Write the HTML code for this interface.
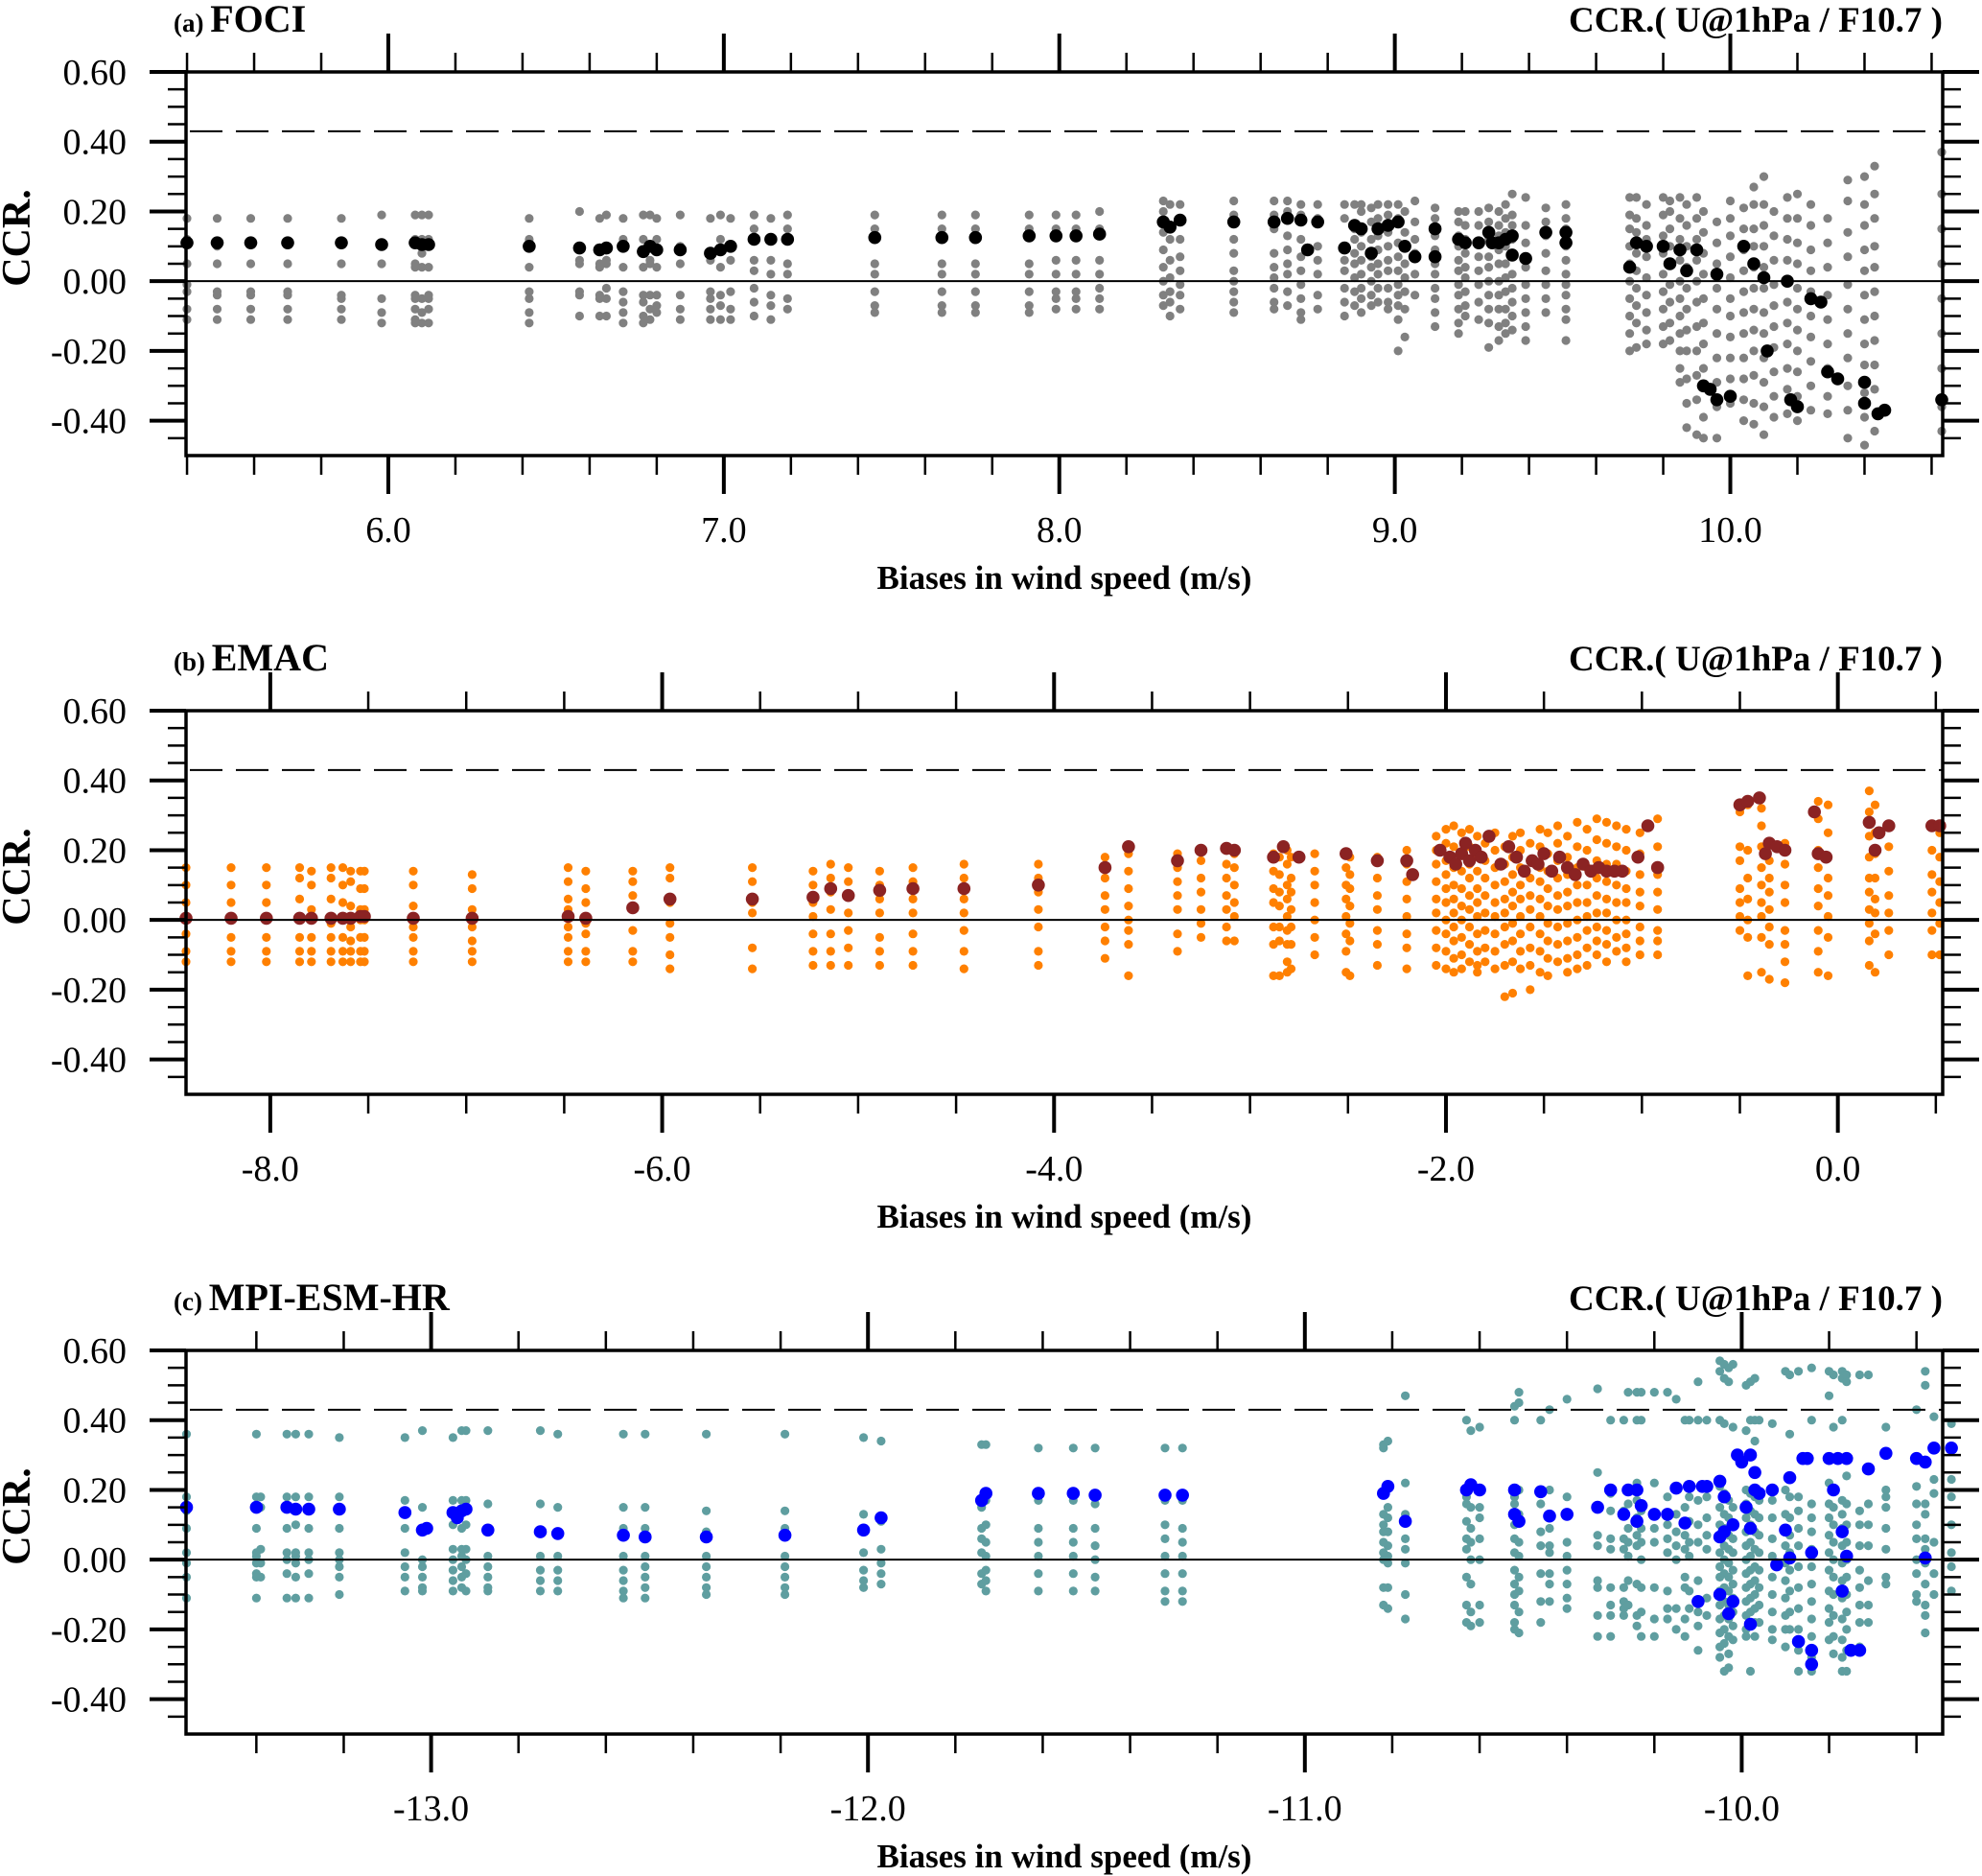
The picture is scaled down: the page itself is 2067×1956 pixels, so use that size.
<!DOCTYPE html>
<html><head><meta charset="utf-8"><style>
html,body{margin:0;padding:0;background:#fff;}
svg{display:block;font-family:"Liberation Serif",serif;}
</style></head><body>
<svg id="fig" width="2067" height="1956" viewBox="0 0 2067 1956" xmlns="http://www.w3.org/2000/svg"></svg>
<script>
// ---------- Panel (a) FOCI ----------
const aGrayX = [5.40,5.49,5.59,5.70,5.86,5.98,6.08,6.10,6.12,6.42,6.57,6.63,6.65,6.70,6.76,6.78,6.80,6.87,6.96,6.99,7.02,7.09,7.14,7.19,7.45,7.65,7.75,7.91,7.99,8.05,8.12,8.31,8.33,8.36,8.52,8.64,8.68,8.72,8.77,8.85,8.88,8.90,8.93,8.95,8.98,9.01,9.03,9.06,9.12,9.19,9.21,9.25,9.28,9.31,9.33,9.35,9.39,9.45,9.51,9.70,9.72,9.75,9.80,9.82,9.85,9.87,9.90,9.92,9.96,10.00,10.04,10.07,10.10,10.13,10.17,10.20,10.24,10.29,10.35,10.40,10.43,10.63];
const aGrayY = [
[0.18,0.12,0.05,-0.01,-0.03,-0.08,-0.11],[0.18,0.10,0.05,-0.03,-0.04,-0.08,-0.11],[0.18,0.05,-0.03,-0.04,-0.08,-0.11],[0.18,0.05,-0.03,-0.04,-0.08,-0.11],
[0.18,0.05,-0.04,-0.05,-0.08,-0.11],[0.19,0.05,-0.05,-0.09,-0.12],[0.19,0.12,0.05,0.04,-0.04,-0.05,-0.08,-0.11,-0.12],[0.19,0.12,0.08,0.04,-0.05,-0.09,-0.12],
[0.19,0.12,0.04,-0.04,-0.05,-0.08,-0.12],[0.18,0.12,0.04,-0.03,-0.05,-0.09,-0.12],[0.20,0.06,0.05,-0.03,-0.04,-0.10],[0.18,0.05,0.04,-0.04,-0.05,-0.10],
[0.19,0.06,0.05,-0.02,-0.05,-0.10],[0.18,0.12,0.04,-0.03,-0.06,-0.09,-0.12],[0.19,0.12,0.04,-0.04,-0.06,-0.10,-0.12],[0.19,0.06,0.05,-0.04,-0.08,-0.11],
[0.18,0.12,0.04,-0.04,-0.07,-0.09],[0.19,0.10,0.05,-0.04,-0.08,-0.11],[0.18,0.06,-0.03,-0.05,-0.08,-0.11],[0.19,0.12,0.04,-0.04,-0.07,-0.11],
[0.18,0.06,-0.03,-0.08,-0.11],[0.19,0.15,0.06,0.03,-0.02,-0.06,-0.10],[0.18,0.06,0.02,-0.04,-0.07,-0.11],[0.19,0.15,0.05,0.02,-0.05,-0.08],
[0.19,0.15,0.05,0.02,-0.03,-0.07,-0.09],[0.19,0.15,0.05,0.02,-0.03,-0.07,-0.09],[0.19,0.15,0.05,0.02,-0.03,-0.07,-0.09],[0.19,0.15,0.05,0.02,-0.03,-0.07,-0.09],
[0.19,0.15,0.06,0.02,-0.03,-0.05,-0.08],[0.19,0.15,0.06,0.02,-0.03,-0.05,-0.08],[0.20,0.15,0.06,0.02,-0.02,-0.05,-0.08],
[0.23,0.20,0.14,0.09,0.04,0.00,-0.04,-0.07],[0.22,0.12,0.06,0.01,-0.03,-0.06,-0.10],[0.22,0.18,0.12,0.07,0.03,-0.01,-0.04,-0.08],
[0.23,0.19,0.12,0.08,0.03,0.00,-0.03,-0.06,-0.09],[0.23,0.19,0.15,0.08,0.04,0.01,-0.02,-0.06,-0.08],[0.23,0.20,0.13,0.09,0.05,0.02,-0.03,-0.07],
[0.22,0.19,0.12,0.07,0.03,-0.01,-0.05,-0.09,-0.11],[0.22,0.18,0.10,0.06,0.02,-0.04,-0.08],[0.22,0.18,0.10,0.06,0.03,-0.02,-0.06,-0.10],
[0.22,0.15,0.12,0.08,0.05,0.01,-0.03,-0.07],[0.22,0.20,0.14,0.10,0.06,0.02,-0.02,-0.05,-0.09],[0.21,0.17,0.12,0.07,0.04,0.00,-0.04,-0.07],
[0.22,0.18,0.13,0.09,0.05,0.02,-0.02,-0.06],[0.22,0.19,0.14,0.10,0.06,0.03,-0.02,-0.06,-0.08],[0.22,0.18,0.11,0.07,0.03,-0.01,-0.04,-0.07,-0.11,-0.20],
[0.20,0.14,0.10,0.05,0.01,-0.03,-0.08,-0.16],[0.23,0.17,0.12,0.08,0.02,-0.04],[0.21,0.18,0.13,0.09,0.05,0.02,-0.02,-0.05,-0.09,-0.13],
[0.20,0.17,0.13,0.10,0.06,0.03,-0.01,-0.04,-0.08,-0.12,-0.15],[0.20,0.16,0.12,0.08,0.04,0.01,-0.03,-0.07,-0.10],[0.20,0.16,0.11,0.07,0.03,-0.01,-0.06,-0.11],
[0.21,0.17,0.12,0.07,0.04,0.00,-0.04,-0.08,-0.12,-0.19],[0.20,0.16,0.13,0.09,0.05,0.00,-0.04,-0.08,-0.13,-0.17],[0.22,0.18,0.14,0.10,0.05,0.01,-0.03,-0.08,-0.12,-0.15],
[0.25,0.19,0.16,0.12,0.08,0.02,-0.02,-0.06,-0.10,-0.14],[0.24,0.16,0.11,0.04,-0.01,-0.05,-0.09,-0.13,-0.17],[0.21,0.17,0.13,0.08,0.03,-0.01,-0.05,-0.09],
[0.22,0.18,0.15,0.10,0.06,0.02,-0.01,-0.04,-0.08,-0.11,-0.17],[0.24,0.19,0.15,0.10,0.05,0.00,-0.05,-0.10,-0.15,-0.20],[0.24,0.18,0.14,0.08,0.03,-0.02,-0.07,-0.12,-0.19],
[0.22,0.16,0.12,0.07,0.01,-0.04,-0.09,-0.14,-0.18],[0.24,0.19,0.13,0.08,0.02,-0.03,-0.08,-0.13,-0.18],[0.23,0.20,0.15,0.10,0.05,-0.01,-0.06,-0.12,-0.17],
[0.24,0.18,0.12,0.06,0.00,-0.05,-0.10,-0.15,-0.20,-0.25,-0.29],[0.22,0.16,0.10,0.04,-0.02,-0.08,-0.14,-0.20,-0.28,-0.35,-0.42],[0.24,0.18,0.12,0.06,0.00,-0.06,-0.13,-0.20,-0.27,-0.34,-0.44],
[0.20,0.14,0.08,0.02,-0.05,-0.12,-0.18,-0.25,-0.39,-0.45],[0.17,0.11,0.05,-0.02,-0.08,-0.15,-0.22,-0.29,-0.36,-0.45],[0.23,0.18,0.13,0.07,0.01,-0.05,-0.10,-0.16,-0.22,-0.28,-0.35],
[0.21,0.15,0.09,0.03,-0.03,-0.09,-0.15,-0.22,-0.28,-0.34,-0.40],[0.27,0.22,0.15,0.10,0.04,-0.02,-0.08,-0.14,-0.20,-0.27,-0.35,-0.41],[0.30,0.22,0.16,0.10,0.04,-0.02,-0.09,-0.15,-0.22,-0.29,-0.36,-0.44],
[0.20,0.13,0.06,-0.01,-0.07,-0.13,-0.19,-0.26,-0.33,-0.39],[0.24,0.18,0.12,0.06,0.00,-0.06,-0.12,-0.18,-0.25,-0.31,-0.38],[0.25,0.18,0.11,0.05,-0.02,-0.08,-0.14,-0.20,-0.26,-0.33,-0.40],
[0.22,0.16,0.09,0.03,-0.03,-0.10,-0.16,-0.23,-0.30,-0.37],[0.18,0.11,0.04,-0.04,-0.11,-0.18,-0.25,-0.33,-0.38],[0.29,0.23,0.14,0.07,-0.01,-0.08,-0.15,-0.22,-0.30,-0.37,-0.45],
[0.30,0.22,0.16,0.09,0.03,-0.04,-0.11,-0.18,-0.24,-0.32,-0.39,-0.47],[0.33,0.25,0.18,0.10,0.04,-0.03,-0.10,-0.17,-0.24,-0.31,-0.43],[0.37,0.25,0.15,0.05,-0.05,-0.15,-0.25,-0.36,-0.43]];
const aHiX = [5.40,5.49,5.59,5.70,5.86,5.98,6.08,6.10,6.12,6.42,6.57,6.63,6.65,6.70,6.76,6.78,6.80,6.87,6.96,6.99,7.02,7.09,7.14,7.19,7.45,7.65,7.75,7.91,7.99,8.05,8.12,8.31,8.33,8.36,8.52,8.64,8.68,8.72,8.74,8.77,8.85,8.88,8.90,8.93,8.95,8.98,9.01,9.03,9.06,9.12,9.12,9.19,9.21,9.25,9.28,9.29,9.31,9.33,9.35,9.35,9.39,9.45,9.51,9.51,9.70,9.72,9.75,9.80,9.82,9.85,9.87,9.90,9.92,9.94,9.96,9.96,10.00,10.04,10.07,10.10,10.11,10.17,10.18,10.20,10.24,10.27,10.29,10.32,10.40,10.40,10.44,10.46,10.63];
const aHiY = [0.11,0.11,0.11,0.11,0.11,0.105,0.11,0.105,0.105,0.10,0.095,0.09,0.095,0.10,0.085,0.10,0.09,0.09,0.08,0.09,0.10,0.12,0.12,0.12,0.125,0.125,0.125,0.13,0.13,0.13,0.135,0.17,0.155,0.175,0.17,0.17,0.18,0.175,0.09,0.17,0.095,0.16,0.15,0.08,0.15,0.16,0.17,0.10,0.07,0.15,0.07,0.12,0.11,0.11,0.14,0.11,0.11,0.12,0.13,0.075,0.065,0.14,0.14,0.11,0.04,0.11,0.10,0.10,0.05,0.09,0.03,0.09,-0.30,-0.31,0.02,-0.34,-0.33,0.10,0.05,0.01,-0.20,0.00,-0.34,-0.36,-0.05,-0.06,-0.26,-0.28,-0.29,-0.35,-0.38,-0.37,-0.34];
const aXTicks = [6.0,7.0,8.0,9.0,10.0];
const aXLabels = ["6.0","7.0","8.0","9.0","10.0"];

// ---------- Panel (b) EMAC ----------
const bGrayX = [-8.43,-8.20,-8.02,-7.85,-7.79,-7.69,-7.63,-7.59,-7.54,-7.52,-7.27,-6.97,-6.48,-6.39,-6.15,-5.96,-5.54,-5.23,-5.14,-5.05,-4.89,-4.72,-4.46,-4.08,-3.74,-3.62,-3.37,-3.25,-3.12,-3.08,-2.88,-2.85,-2.81,-2.79,-2.67,-2.51,-2.49,-2.35,-2.20,-2.05,-2.00,-1.96,-1.92,-1.88,-1.84,-1.80,-1.75,-1.70,-1.66,-1.62,-1.57,-1.52,-1.48,-1.43,-1.38,-1.33,-1.28,-1.23,-1.18,-1.13,-1.08,-1.01,-0.92,-0.50,-0.46,-0.39,-0.35,-0.27,-0.10,-0.05,0.16,0.19,0.26,0.48,0.52];
const bGrayY = [
[0.15,0.10,0.05,0.00,-0.04,-0.09,-0.12],[0.15,0.10,0.05,0.00,-0.05,-0.09,-0.12],[0.15,0.10,0.05,0.00,-0.05,-0.09,-0.12],[0.15,0.12,0.06,0.01,-0.05,-0.09,-0.12],
[0.14,0.10,0.03,-0.05,-0.09,-0.12],[0.15,0.12,0.06,-0.01,-0.05,-0.09,-0.12],[0.15,0.10,0.05,0.00,-0.05,-0.09,-0.12],[0.14,0.11,0.04,-0.02,-0.06,-0.09,-0.12],
[0.14,0.09,0.03,0.00,-0.05,-0.09,-0.12],[0.14,0.09,0.03,0.00,-0.05,-0.09,-0.12],[0.14,0.10,0.04,-0.02,-0.05,-0.09,-0.12],[0.13,0.09,0.03,-0.02,-0.06,-0.09,-0.12],
[0.15,0.11,0.06,0.03,-0.02,-0.05,-0.09,-0.12],[0.14,0.09,0.05,-0.01,-0.04,-0.09,-0.12],[0.14,0.11,0.07,-0.03,-0.09,-0.12],[0.15,0.12,0.05,-0.01,-0.05,-0.10,-0.14],
[0.15,0.11,0.05,0.02,-0.08,-0.14],[0.14,0.10,0.05,0.01,-0.04,-0.09,-0.13],[0.16,0.12,0.08,0.03,-0.04,-0.09,-0.13],[0.15,0.11,0.07,0.02,-0.03,-0.08,-0.13],
[0.14,0.10,0.06,0.02,-0.05,-0.09,-0.13],[0.15,0.11,0.06,0.02,-0.04,-0.09,-0.13],[0.16,0.12,0.06,0.02,-0.03,-0.09,-0.14],[0.16,0.12,0.08,0.03,-0.02,-0.09,-0.13],
[0.18,0.12,0.07,0.03,-0.02,-0.06,-0.11],[0.19,0.14,0.09,0.04,0.00,-0.03,-0.07,-0.16],[0.19,0.15,0.11,0.07,0.03,-0.04,-0.09],[0.20,0.17,0.12,0.08,0.03,-0.01,-0.05],
[0.20,0.16,0.12,0.07,0.03,-0.02,-0.06],[0.19,0.15,0.10,0.05,0.01,-0.06],[0.19,0.14,0.09,0.05,-0.02,-0.07,-0.16],[0.18,0.13,0.08,0.04,-0.02,-0.06,-0.16],
[0.20,0.16,0.10,0.06,0.01,-0.03,-0.07,-0.12,-0.15],[0.18,0.12,0.08,0.03,-0.02,-0.07,-0.14],[0.19,0.14,0.10,0.05,0.00,-0.05,-0.10],[0.19,0.15,0.10,0.06,0.01,-0.04,-0.09,-0.15],
[0.18,0.13,0.09,0.04,-0.01,-0.06,-0.16],[0.18,0.12,0.07,0.03,-0.03,-0.07,-0.13],[0.20,0.16,0.11,0.06,0.01,-0.04,-0.08,-0.14],
[0.24,0.20,0.16,0.11,0.06,0.02,-0.03,-0.08,-0.13],[0.26,0.22,0.17,0.13,0.09,0.05,0.00,-0.04,-0.09,-0.14],[0.27,0.21,0.15,0.10,0.06,0.02,-0.02,-0.06,-0.11,-0.15],
[0.25,0.19,0.14,0.09,0.04,0.00,-0.05,-0.10,-0.14],[0.26,0.21,0.16,0.12,0.07,0.03,-0.02,-0.07,-0.12],[0.24,0.19,0.14,0.09,0.05,0.01,-0.04,-0.09,-0.13,-0.15],
[0.22,0.17,0.12,0.07,0.02,-0.03,-0.08,-0.12],[0.25,0.20,0.15,0.10,0.05,0.01,-0.04,-0.09,-0.14],[0.21,0.16,0.11,0.06,0.02,-0.02,-0.07,-0.13,-0.22],
[0.24,0.18,0.13,0.08,0.04,-0.01,-0.06,-0.12,-0.21],[0.25,0.20,0.15,0.10,0.06,0.01,-0.04,-0.09,-0.14],[0.22,0.17,0.12,0.07,0.03,-0.02,-0.08,-0.13,-0.20],
[0.26,0.21,0.15,0.11,0.06,0.01,-0.04,-0.09,-0.15],[0.25,0.19,0.14,0.09,0.04,-0.01,-0.06,-0.11,-0.16],[0.27,0.22,0.17,0.12,0.07,0.03,-0.02,-0.07,-0.12],
[0.24,0.18,0.13,0.08,0.04,-0.01,-0.06,-0.11,-0.15],[0.28,0.21,0.15,0.10,0.05,0.00,-0.05,-0.10,-0.14],[0.26,0.20,0.15,0.10,0.05,0.01,-0.03,-0.08,-0.13],
[0.29,0.23,0.17,0.12,0.07,0.02,-0.02,-0.06,-0.10],[0.28,0.22,0.16,0.11,0.06,0.02,-0.03,-0.07,-0.12],[0.27,0.21,0.16,0.10,0.05,0.00,-0.05,-0.09],
[0.26,0.20,0.14,0.09,0.05,0.00,-0.04,-0.08,-0.12],[0.25,0.19,0.13,0.08,0.04,-0.02,-0.06,-0.10],[0.29,0.21,0.13,0.08,0.03,-0.03,-0.06,-0.10],
[0.31,0.21,0.17,0.09,0.05,0.01,-0.03],[0.33,0.20,0.12,0.06,0.00,-0.05,-0.16],[0.32,0.27,0.21,0.15,0.10,0.05,0.01,-0.05,-0.15],
[0.22,0.17,0.12,0.08,0.03,-0.02,-0.07,-0.17],[0.22,0.16,0.10,0.05,-0.03,-0.07,-0.12,-0.18],[0.34,0.29,0.20,0.15,0.09,0.04,-0.03,-0.09,-0.15],
[0.33,0.25,0.18,0.12,0.07,0.01,-0.05,-0.16],[0.37,0.31,0.24,0.18,0.12,0.08,0.03,-0.01,-0.06,-0.13],[0.33,0.25,0.19,0.12,0.06,0.02,-0.04,-0.15],
[0.27,0.21,0.14,0.07,0.02,-0.03,-0.10],[0.27,0.20,0.13,0.08,0.02,-0.03,-0.10],[0.25,0.18,0.11,0.05,-0.01,-0.10]];
const bHiX = [-8.43,-8.20,-8.02,-7.85,-7.79,-7.69,-7.63,-7.59,-7.54,-7.52,-7.27,-6.97,-6.48,-6.39,-6.15,-5.96,-5.54,-5.23,-5.14,-5.05,-4.89,-4.72,-4.46,-4.08,-3.74,-3.62,-3.37,-3.25,-3.12,-3.08,-2.88,-2.83,-2.75,-2.51,-2.35,-2.20,-2.17,-2.03,-1.98,-1.95,-1.92,-1.90,-1.88,-1.85,-1.82,-1.78,-1.72,-1.68,-1.64,-1.60,-1.56,-1.53,-1.50,-1.46,-1.42,-1.38,-1.34,-1.30,-1.26,-1.22,-1.18,-1.14,-1.10,-1.02,-0.97,-0.92,-0.50,-0.46,-0.40,-0.37,-0.35,-0.31,-0.27,-0.12,-0.10,-0.06,0.16,0.19,0.21,0.26,0.48,0.52];
const bHiY = [0.005,0.005,0.005,0.005,0.005,0.005,0.005,0.005,0.01,0.01,0.005,0.005,0.01,0.005,0.035,0.06,0.06,0.065,0.09,0.07,0.085,0.09,0.09,0.10,0.15,0.21,0.17,0.20,0.205,0.20,0.18,0.21,0.18,0.19,0.17,0.17,0.13,0.20,0.18,0.16,0.19,0.22,0.17,0.20,0.18,0.24,0.16,0.21,0.18,0.14,0.17,0.16,0.19,0.14,0.18,0.15,0.13,0.16,0.14,0.15,0.14,0.14,0.14,0.18,0.27,0.15,0.33,0.34,0.35,0.19,0.22,0.21,0.20,0.31,0.19,0.18,0.28,0.20,0.25,0.27,0.27,0.27];
const bXTicks = [-8.0,-6.0,-4.0,-2.0,0.0];
const bXLabels = ["-8.0","-6.0","-4.0","-2.0","0.0"];

// ---------- Panel (c) MPI-ESM-HR ----------
const cGrayX = [-13.56,-13.40,-13.39,-13.33,-13.31,-13.28,-13.21,-13.06,-13.02,-12.95,-12.93,-12.92,-12.87,-12.75,-12.71,-12.56,-12.51,-12.37,-12.19,-12.01,-11.97,-11.74,-11.73,-11.61,-11.53,-11.48,-11.32,-11.28,
-10.82,-10.81,-10.77,-10.63,-10.62,-10.60,-10.52,-10.51,-10.46,-10.44,-10.40,-10.33,-10.30,-10.27,-10.26,-10.24,-10.23,-10.20,-10.17,-10.15,-10.13,-10.12,-10.10,-10.08,-10.05,-10.04,-10.03,-10.02,-9.99,-9.98,-9.97,-9.96,-9.93,-9.90,-9.89,-9.87,-9.84,-9.80,-9.79,-9.77,-9.76,-9.73,-9.71,-9.67,-9.60,-9.58,-9.56,-9.52];
const cGrayY = [
[0.36,0.18,0.14,0.09,0.02,-0.01,-0.05,-0.11],[0.36,0.18,0.09,0.02,0.01,-0.01,-0.04,-0.05,-0.11],[0.18,0.15,0.03,-0.01,-0.05],[0.36,0.18,0.09,0.02,0.00,-0.04,-0.11],
[0.36,0.18,0.10,0.02,0.01,-0.01,-0.05,-0.11],[0.36,0.18,0.09,0.02,0.00,-0.04,-0.11],[0.35,0.18,0.09,0.02,0.00,-0.02,-0.05,-0.10],[0.35,0.17,0.09,0.02,-0.02,-0.05,-0.09],
[0.37,0.15,0.00,-0.02,-0.05,-0.08,-0.09],[0.35,0.17,0.10,0.03,0.00,-0.03,-0.06,-0.09],[0.37,0.17,0.09,0.03,0.01,-0.02,-0.05,-0.08],[0.37,0.17,0.10,0.03,0.00,-0.04,-0.09],
[0.37,0.16,0.01,-0.02,-0.05,-0.08,-0.09],[0.37,0.16,0.01,-0.03,-0.06,-0.09],[0.36,0.15,0.01,-0.03,-0.06,-0.09],[0.36,0.15,0.09,0.01,-0.03,-0.06,-0.09,-0.11],
[0.36,0.15,0.09,0.01,-0.02,-0.05,-0.08,-0.11],[0.36,0.14,0.08,0.01,-0.02,-0.05,-0.08,-0.10],[0.36,0.14,0.09,0.01,-0.02,-0.05,-0.08,-0.10],[0.35,0.13,0.09,0.02,-0.03,-0.06,-0.08],
[0.34,0.11,0.03,-0.01,-0.04,-0.07],[0.33,0.15,0.09,0.06,0.02,-0.04,-0.07],[0.33,0.17,0.10,0.05,0.01,-0.03,-0.06,-0.09],[0.32,0.17,0.09,0.05,0.01,-0.04,-0.09],
[0.32,0.17,0.09,0.05,0.01,-0.04,-0.09],[0.32,0.16,0.09,0.04,0.00,-0.05,-0.09],[0.32,0.17,0.10,0.06,0.01,-0.04,-0.09,-0.12],[0.32,0.17,0.09,0.05,0.01,-0.04,-0.09,-0.12],
[0.33,0.32,0.13,0.10,0.08,0.05,0.02,0.00,-0.08,-0.13],[0.34,0.15,0.12,0.08,0.04,0.01,-0.01,-0.08,-0.14],[0.47,0.22,0.13,0.06,0.03,-0.01,-0.10,-0.17],
[0.40,0.18,0.16,0.11,0.06,0.03,-0.05,-0.13,-0.18],[0.37,0.15,0.09,0.05,0.00,-0.07,-0.15,-0.19],[0.38,0.15,0.12,0.06,0.00,-0.13,-0.18],
[0.44,0.40,0.18,0.16,0.10,0.06,0.02,-0.03,-0.07,-0.10,-0.13,-0.18,-0.20],[0.48,0.45,0.20,0.13,0.05,0.01,-0.05,-0.09,-0.15,-0.21],[0.40,0.19,0.16,0.08,0.04,-0.04,-0.12,-0.18],
[0.43,0.20,0.09,0.04,0.02,-0.04,-0.07,-0.12],[0.46,0.18,0.05,0.01,-0.03,-0.07,-0.11,-0.14],[0.49,0.25,0.07,0.04,-0.06,-0.08,-0.16,-0.22],
[0.40,0.19,0.14,0.06,0.03,-0.08,-0.13,-0.16,-0.22],[0.40,0.14,0.06,0.03,-0.08,-0.12,-0.14,-0.16],[0.48,0.20,0.16,0.09,0.05,0.01,-0.06,-0.13],
[0.48,0.40,0.22,0.17,0.12,0.07,0.04,-0.07,-0.16,-0.19],[0.48,0.40,0.14,0.09,0.05,0.00,-0.08,-0.15,-0.22],[0.48,0.22,0.09,0.05,-0.08,-0.17,-0.22],
[0.48,0.18,0.10,0.06,0.02,-0.09,-0.14,-0.17],[0.46,0.20,0.13,0.08,0.04,0.00,-0.14,-0.20],[0.40,0.15,0.11,0.07,0.03,-0.05,-0.08,-0.17,-0.22],
[0.40,0.18,0.11,0.05,0.01,-0.09,-0.14],[0.51,0.40,0.17,0.10,0.05,-0.06,-0.15,-0.19,-0.26],[0.40,0.18,0.12,0.07,0.03,-0.11,-0.16],
[0.57,0.54,0.40,0.21,0.15,0.10,0.06,0.02,-0.02,-0.05,-0.09,-0.13,-0.17,-0.21,-0.25,-0.28],[0.56,0.52,0.39,0.19,0.13,0.09,0.04,0.00,-0.04,-0.08,-0.12,-0.16,-0.20,-0.24,-0.32],
[0.55,0.51,0.17,0.12,0.07,0.03,-0.01,-0.05,-0.09,-0.13,-0.17,-0.22,-0.27,-0.31],[0.56,0.38,0.15,0.10,0.06,0.02,-0.03,-0.07,-0.11,-0.15,-0.19,-0.23],
[0.50,0.37,0.20,0.16,0.12,0.08,0.04,0.00,-0.04,-0.08,-0.12,-0.16,-0.20,-0.22],[0.51,0.40,0.19,0.14,0.10,0.05,0.01,-0.03,-0.07,-0.11,-0.15,-0.19,-0.32],
[0.52,0.40,0.34,0.18,0.13,0.08,0.03,-0.02,-0.06,-0.10,-0.14,-0.18,-0.22],[0.40,0.17,0.12,0.07,0.02,-0.03,-0.08,-0.13,-0.18],
[0.39,0.17,0.12,0.06,0.01,-0.05,-0.10,-0.15,-0.20,-0.23],[0.54,0.20,0.13,0.09,0.04,-0.01,-0.06,-0.11,-0.16,-0.20,-0.25],
[0.53,0.36,0.18,0.12,0.07,0.02,-0.03,-0.09,-0.15,-0.20],[0.54,0.18,0.14,0.09,0.04,-0.02,-0.08,-0.14,-0.20,-0.26,-0.32],
[0.55,0.40,0.16,0.12,0.08,0.03,-0.02,-0.07,-0.12,-0.17,-0.22,-0.28,-0.32],[0.54,0.47,0.22,0.16,0.12,0.07,0.02,-0.03,-0.09,-0.14,-0.18,-0.23],
[0.53,0.38,0.20,0.15,0.10,0.05,0.00,-0.05,-0.10,-0.16,-0.22,-0.27],[0.54,0.52,0.40,0.17,0.13,0.09,0.04,-0.01,-0.06,-0.11,-0.17,-0.23,-0.28,-0.32],
[0.53,0.51,0.24,0.16,0.10,0.05,0.00,-0.05,-0.10,-0.15,-0.20,-0.26,-0.32],[0.53,0.14,0.10,0.04,-0.03,-0.08,-0.13,-0.18,-0.25],
[0.53,0.16,0.10,0.04,-0.06,-0.13,-0.18],[0.38,0.20,0.18,0.15,0.09,0.03,-0.05,-0.07],[0.43,0.21,0.16,0.10,0.06,0.00,-0.04,-0.10,-0.12],
[0.54,0.50,0.16,0.13,0.06,0.03,-0.01,-0.07,-0.13,-0.16,-0.21],[0.41,0.23,0.19,0.05,-0.04,-0.10],[0.39,0.23,0.18,0.10,0.02,-0.02,-0.09]];
const cHiX = [-13.56,-13.40,-13.33,-13.31,-13.28,-13.21,-13.06,-13.02,-13.01,-12.95,-12.94,-12.93,-12.92,-12.87,-12.75,-12.71,-12.56,-12.51,-12.37,-12.19,-12.01,-11.97,-11.74,-11.73,-11.61,-11.53,-11.48,-11.32,-11.28,
-10.82,-10.81,-10.77,-10.63,-10.62,-10.60,-10.52,-10.52,-10.51,-10.46,-10.44,-10.40,-10.33,-10.30,-10.27,-10.26,-10.24,-10.23,-10.24,-10.20,-10.17,-10.15,-10.13,-10.12,-10.10,-10.09,-10.08,-10.05,-10.05,-10.05,-10.04,-10.04,-10.03,-10.02,-10.02,-10.01,-10.00,-9.99,-9.98,-9.98,-9.98,-9.97,-9.97,-9.96,-9.93,-9.92,-9.90,-9.89,-9.89,-9.87,-9.86,-9.85,-9.84,-9.84,-9.84,-9.80,-9.79,-9.78,-9.77,-9.77,-9.76,-9.76,-9.75,-9.73,-9.71,-9.67,-9.60,-9.58,-9.58,-9.56,-9.52];
const cHiY = [0.15,0.15,0.15,0.145,0.145,0.145,0.135,0.085,0.09,0.135,0.12,0.14,0.145,0.085,0.08,0.075,0.07,0.065,0.065,0.07,0.085,0.12,0.17,0.19,0.19,0.19,0.185,0.185,0.185,
0.19,0.21,0.11,0.20,0.215,0.20,0.20,0.13,0.11,0.195,0.125,0.13,0.15,0.20,0.13,0.20,0.20,0.155,0.11,0.13,0.13,0.205,0.105,0.21,-0.12,0.21,0.21,0.065,0.225,-0.10,0.18,0.08,-0.155,-0.12,0.10,0.30,0.28,0.15,0.30,0.09,-0.185,0.25,0.20,0.19,0.20,-0.015,0.085,0.005,0.235,-0.235,0.29,0.29,-0.26,-0.30,0.02,0.29,0.20,0.29,-0.09,0.08,0.29,0.01,-0.26,-0.26,0.26,0.305,0.29,0.005,0.28,0.32,0.32];
const cXTicks = [-13.0,-12.0,-11.0,-10.0];
const cXLabels = ["-13.0","-12.0","-11.0","-10.0"];

const yTicks = [-0.4,-0.2,0.0,0.2,0.4,0.6];
const yLabels = ["-0.40","-0.20","0.00","0.20","0.40","0.60"];
const sigLevel = 0.43;

const NS = "http://www.w3.org/2000/svg";
const svg = document.getElementById('fig');
function mk(tag, attrs, parent){ const e=document.createElementNS(NS,tag); for(const k in attrs) e.setAttribute(k,attrs[k]); (parent||svg).appendChild(e); return e; }

const L=194, R=2026, H=400, Y0=-0.5, Y1=0.6;
const panels = [
 {top:75, xmin:5.397, xmax:10.633, minor:0.2, letter:"(a)", name:"FOCI", key:"a", gx:aGrayX, gy:aGrayY, hx:aHiX, hy:aHiY, xt:aXTicks, xl:aXLabels, gc:"#808080", hc:"#000000"},
 {top:741, xmin:-8.43, xmax:0.535, minor:0.5, letter:"(b)", name:"EMAC", key:"b", gx:bGrayX, gy:bGrayY, hx:bHiX, hy:bHiY, xt:bXTicks, xl:bXLabels, gc:"#ff8000", hc:"#8b2323"},
 {top:1408, xmin:-13.561, xmax:-9.54, minor:0.2, letter:"(c)", name:"MPI-ESM-HR", key:"c", gx:cGrayX, gy:cGrayY, hx:cHiX, hy:cHiY, xt:cXTicks, xl:cXLabels, gc:"#5f9ea0", hc:"#0000ff"}
];

panels.forEach(p=>{
  const g = mk('g',{});
  
  
  const B = p.top+H;
  const sx = v => L + (v-p.xmin)/(p.xmax-p.xmin)*(R-L);
  const sy = v => B - (v-Y0)/(Y1-Y0)*H;

  const gg = mk('g',{},g);
  
  
  p.gx.forEach((x,i)=>{ p.gy[i].forEach(y=>{
    const c = mk('circle',{cx:sx(x).toFixed(1),cy:sy(y).toFixed(1),r:4.6,fill:p.gc},gg);
    
    
  });});
  const hg = mk('g',{},g);
  
  
  p.hx.forEach((x,i)=>{
    const c = mk('circle',{cx:sx(x).toFixed(1),cy:sy(p.hy[i]).toFixed(1),r:6.8,fill:p.hc},hg);
    
    
  });

  const zl = mk('line',{x1:L,x2:R,y1:sy(0),y2:sy(0),stroke:'#000','stroke-width':2},g);
  
  
  const dl = mk('line',{x1:L+4,x2:R,y1:sy(sigLevel),y2:sy(sigLevel),stroke:'#000','stroke-width':2,'stroke-dasharray':'34 14'},g);
  
  

  const fr = mk('rect',{x:L,y:p.top,width:R-L,height:H,fill:'none',stroke:'#000','stroke-width':3.5},g);
  
  

  const start = Math.ceil((p.xmin+1e-6)/p.minor)*p.minor;
  for(let v=start; v<=p.xmax+1e-9; v+=p.minor){
    const vv = Math.round(v*1000)/1000;
    const major = p.xt.some(t=>Math.abs(t-vv)<1e-6);
    const len = major?40:20, x=sx(vv), w=major?4:2.5;
    const t1 = mk('line',{x1:x,x2:x,y1:p.top,y2:p.top-len,stroke:'#000','stroke-width':w},g);
    
    
    const t2 = mk('line',{x1:x,x2:x,y1:B,y2:B+len,stroke:'#000','stroke-width':w},g);
    
    
  }
  p.xt.forEach((v,i)=>{
    const t = mk('text',{x:sx(v),y:B+90,'text-anchor':'middle','font-size':38,fill:'#000'},g);
    t.textContent = p.xl[i];
    
    
  });
  for(let k=-9;k<=12;k++){
    const v=k*0.05; const major = (k%4===0);
    const y=sy(v), len=major?38:19, w=major?4:2.5;
    const t1 = mk('line',{x1:L,x2:L-len,y1:y,y2:y,stroke:'#000','stroke-width':w},g);
    
    
    const t2 = mk('line',{x1:R,x2:R+len,y1:y,y2:y,stroke:'#000','stroke-width':w},g);
    
    
  }
  yTicks.forEach((v,i)=>{
    const t = mk('text',{x:132,y:sy(v)+13,'text-anchor':'end','font-size':38,fill:'#000'},g);
    t.textContent = yLabels[i];
    
    
  });
  const xt = mk('text',{x:(L+R)/2,y:B+139,'text-anchor':'middle','font-size':35,'font-weight':'bold',fill:'#000'},g);
  xt.textContent = 'Biases in wind speed (m/s)';
  
  
  const yt = mk('text',{x:0,y:0,'text-anchor':'middle','font-size':42,'font-weight':'bold',fill:'#000',transform:`translate(31,${p.top+173}) rotate(-90)`},g);
  yt.textContent = 'CCR.';
  
  
  const pt = mk('text',{x:181,y:p.top-42,'font-weight':'bold',fill:'#000'},g);
  
  
  const s1 = mk('tspan',{'font-size':27},pt); s1.textContent = p.letter+' ';
  const s2 = mk('tspan',{'font-size':40},pt); s2.textContent = p.name;
  const rt = mk('text',{x:R,y:p.top-42,'text-anchor':'end','font-size':37,'font-weight':'bold',fill:'#000'},g);
  rt.textContent = 'CCR.( U@1hPa / F10.7 )';
  
  
});
</script>
</body></html>
